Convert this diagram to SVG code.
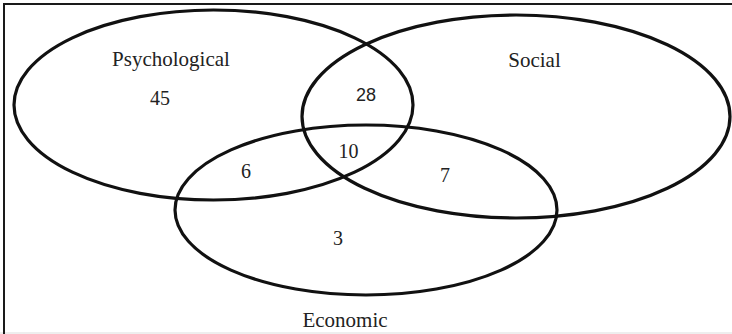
<svg xmlns="http://www.w3.org/2000/svg" width="732" height="334" viewBox="0 0 732 334">
<style>
.set{fill:none;stroke:#111;stroke-width:3.2}
.t{font-family:"Liberation Serif","Times New Roman",serif;font-size:20px;fill:#222}
.w{font-size:21px}
.s{font-family:"Liberation Sans",Arial,sans-serif;font-size:18px;fill:#222}
</style>
<rect width="732" height="334" fill="#fff"/>
<rect x="0" y="332" width="732" height="2" fill="#eee"/>
<path d="M4,334 V4 H732" fill="none" stroke="#1a1a1a" stroke-width="2"/>
<g id="connectors"></g>
<g id="psychological">
<ellipse class="set" cx="213.5" cy="105" rx="199.5" ry="95"/>
<text class="t w" x="171" y="66" text-anchor="middle">Psychological</text>
<text class="t" x="160" y="105" text-anchor="middle">45</text>
</g>
<g id="social">
<ellipse class="set" cx="516" cy="116.5" rx="214" ry="101.5"/>
<text class="t w" x="534.5" y="67" text-anchor="middle">Social</text>
</g>
<g id="economic">
<ellipse class="set" cx="366" cy="210" rx="191" ry="85"/>
<text class="t w" x="345" y="327" text-anchor="middle">Economic</text>
</g>
<g id="regions">
<text class="s" x="366" y="101" text-anchor="middle">28</text>
<text class="t" x="348.5" y="158" text-anchor="middle">10</text>
<text class="t" x="246" y="178" text-anchor="middle">6</text>
<text class="t" x="445" y="182" text-anchor="middle">7</text>
<text class="t" x="338" y="245" text-anchor="middle">3</text>
</g>
</svg>
